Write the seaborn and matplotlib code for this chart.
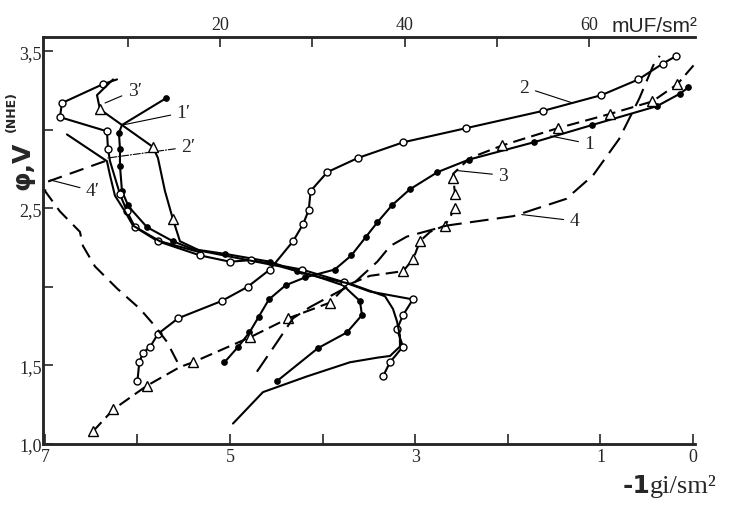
import numpy as np
import pandas as pd
import matplotlib
matplotlib.use("Agg")
import matplotlib.pyplot as plt
import seaborn as sns

# Curves vs. bottom axis (-lg i)
c1_x = [5.06, 4.91, 4.79, 4.69, 4.58, 4.40, 4.19, 3.87, 3.69, 3.53, 3.41, 3.25, 3.06, 2.76, 2.42, 1.72, 1.09, 0.39, 0.14, 0.05]
c1_y = [1.52, 1.62, 1.71, 1.81, 1.92, 2.01, 2.06, 2.11, 2.20, 2.32, 2.41, 2.52, 2.62, 2.73, 2.81, 2.92, 3.03, 3.15, 3.23, 3.27]

c2_x = [6.00, 5.98, 5.94, 5.86, 5.78, 5.56, 5.09, 4.81, 4.57, 4.32, 4.21, 4.15, 4.13, 3.95, 3.62, 3.13, 2.45, 1.62, 0.99, 0.59, 0.33, 0.18]
c2_y = [1.40, 1.52, 1.58, 1.62, 1.70, 1.80, 1.91, 2.00, 2.11, 2.29, 2.40, 2.49, 2.61, 2.73, 2.82, 2.92, 3.01, 3.12, 3.22, 3.32, 3.42, 3.47]

c3_x = [6.48, 6.26, 5.90, 5.54, 5.40, 4.78, 4.37, 3.92, 3.74, 3.49, 3.13, 3.02, 2.95, 2.84, 2.68, 2.57, 2.57, 2.59, 2.59, 2.41, 2.06, 1.46, 0.90, 0.44, 0.17, -0.02]
c3_y = [1.08, 1.22, 1.37, 1.49, 1.52, 1.68, 1.80, 1.90, 2.01, 2.07, 2.10, 2.18, 2.29, 2.35, 2.39, 2.50, 2.59, 2.69, 2.72, 2.82, 2.90, 3.01, 3.10, 3.18, 3.29, 3.42]
c3_marked = [0, 1, 2, 4, 5, 6, 7, 10, 11, 12, 14, 15, 16, 17, 20, 21, 22, 23, 24]

c4_x = [4.71, 4.49, 4.32, 4.14, 3.67, 3.41, 3.27, 3.09, 2.84, 2.66, 1.94, 1.37, 1.08, 0.80, 0.58, 0.43, 0.36]
c4_y = [1.46, 1.65, 1.80, 1.87, 2.02, 2.16, 2.26, 2.32, 2.36, 2.39, 2.45, 2.56, 2.71, 2.94, 3.20, 3.41, 3.47]

# Curves vs. top axis (capacitance, mUF/sm2)
p1_x = [14.12, 9.35, 9.02, 9.13, 9.13, 9.35, 10.00, 10.54, 12.06, 14.88, 17.05, 20.52, 25.40, 28.33, 30.28, 33.32, 35.16, 35.38, 33.75, 30.61, 26.16]
p1_y = [3.20, 3.03, 2.98, 2.88, 2.77, 2.61, 2.52, 2.48, 2.38, 2.29, 2.24, 2.21, 2.16, 2.10, 2.07, 2.01, 1.91, 1.82, 1.71, 1.61, 1.40]
p1_marked = [0, 2, 3, 4, 5, 6, 8, 9, 11, 12, 13, 16, 17, 18, 19, 20]

p2_x = [8.81, 7.29, 2.84, 2.62, 7.72, 7.83, 8.05, 9.13, 9.89, 10.76, 13.25, 17.81, 21.06, 23.34, 28.87, 33.43, 36.25, 40.91, 39.83, 39.18, 39.83, 38.42, 37.66]
p2_y = [3.32, 3.29, 3.17, 3.08, 2.99, 2.88, 2.80, 2.59, 2.48, 2.38, 2.29, 2.20, 2.16, 2.17, 2.11, 2.03, 1.97, 1.92, 1.82, 1.73, 1.62, 1.52, 1.43]
p2_marked = [1, 2, 3, 4, 5, 7, 8, 9, 10, 11, 12, 13, 14, 15, 17, 18, 19, 20, 21, 22]

p3_x = [8.38, 6.64, 6.96, 9.35, 12.71, 13.25, 14.01, 14.88, 15.64, 17.81, 22.15, 26.49, 30.83, 34.08, 37.88, 38.74, 39.18, 39.50, 39.50, 38.42, 37.12, 34.08, 29.41, 24.64, 21.39]
p3_y = [3.32, 3.22, 3.13, 3.03, 2.89, 2.82, 2.61, 2.43, 2.29, 2.23, 2.18, 2.13, 2.06, 2.02, 1.94, 1.86, 1.78, 1.69, 1.62, 1.56, 1.55, 1.52, 1.43, 1.33, 1.13]
p3_marked = [2, 4, 7]

p4_x = [7.51, 1.32, 1.00, 2.62, 4.79, 5.12, 6.42, 8.81, 11.30, 12.93, 14.23, 15.64]
p4_y = [2.80, 2.67, 2.61, 2.48, 2.35, 2.26, 2.13, 1.99, 1.86, 1.75, 1.65, 1.49]

p5_x = [3.38, 7.72, 8.05, 8.59, 9.67, 10.54, 13.47, 17.81]
p5_y = [2.97, 2.80, 2.71, 2.58, 2.48, 2.39, 2.29, 2.22]

sns.set_style("ticks")
plt.rcParams["font.family"] = ["Liberation Serif", "DejaVu Serif"]

fig = plt.figure(figsize=(7.32, 5.06), dpi=100)
ax = fig.add_axes([0.0587, 0.1206, 0.8907, 0.8043])
ax2 = ax.twiny()

lw = 1.5
open_c = dict(marker="o", markersize=5, markerfacecolor="white", markeredgecolor="black", markeredgewidth=1)
fill_c = dict(marker="o", markersize=4, markerfacecolor="black", markeredgecolor="black", markeredgewidth=0.8)
tri = dict(marker="^", markersize=7, markerfacecolor="white", markeredgecolor="black", markeredgewidth=1)

sns.lineplot(x=c1_x, y=c1_y, ax=ax, sort=False, estimator=None, color="black", lw=lw, **fill_c)
sns.lineplot(x=c2_x, y=c2_y, ax=ax, sort=False, estimator=None, color="black", lw=lw, **open_c)
sns.lineplot(x=c3_x, y=c3_y, ax=ax, sort=False, estimator=None, color="black", lw=lw,
             linestyle=(0, (6, 3)), markevery=c3_marked, **tri)
sns.lineplot(x=c4_x, y=c4_y, ax=ax, sort=False, estimator=None, color="black", lw=lw,
             linestyle=(0, (9, 4)))

sns.lineplot(x=p1_x, y=p1_y, ax=ax2, sort=False, estimator=None, color="black", lw=lw,
             markevery=p1_marked, **fill_c)
sns.lineplot(x=p2_x, y=p2_y, ax=ax2, sort=False, estimator=None, color="black", lw=lw,
             markevery=p2_marked, **open_c)
sns.lineplot(x=p3_x, y=p3_y, ax=ax2, sort=False, estimator=None, color="black", lw=lw,
             markevery=p3_marked, **tri)
sns.lineplot(x=p4_x, y=p4_y, ax=ax2, sort=False, estimator=None, color="black", lw=lw,
             linestyle=(0, (7, 4)))
sns.lineplot(x=p5_x, y=p5_y, ax=ax2, sort=False, estimator=None, color="black", lw=lw)

# axes ranges and ticks
ax.set_xlim(7.02, -0.02)
ax.set_ylim(1.0, 3.59)
ax2.set_xlim(0.78, 71.5)

ax.set_xticks([7, 6, 5, 4, 3, 2, 1, 0])
ax.set_xticklabels(["7", "", "5", "", "3", "", "1", "0"])
ax.set_yticks([1.0, 1.5, 2.0, 2.5, 3.0, 3.5])
ax.set_yticklabels(["1,0", "1,5", "", "2,5", "", "3,5"])
ax2.set_xticks([10, 20, 30, 40, 50, 60])
ax2.set_xticklabels(["", "20", "", "40", "", "60"])

ax.tick_params(axis="both", direction="in", length=7, width=1.2, labelsize=13, pad=3)
ax.tick_params(axis="y", pad=1)
ax2.tick_params(axis="x", direction="in", length=7, width=1.2, labelsize=13, pad=3)

for a in (ax, ax2):
    a.spines["right"].set_visible(False)
    for s in ("left", "bottom", "top"):
        a.spines[s].set_linewidth(1.8)
ax.set_xlabel("")
ax.set_ylabel("")
ax2.set_xlabel("")

# curve labels with leader lines
leader = dict(arrowstyle="-", lw=0.8, color="black", shrinkA=2, shrinkB=0)
labels = [
    ("2", (1.30, 3.17), (1.82, 3.27)),
    ("1", (1.54, 2.96), (1.12, 2.91)),
    ("3", (2.55, 2.74), (2.05, 2.71)),
    ("4", (1.85, 2.46), (1.28, 2.42)),
    ("3′", (6.35, 3.17), (6.03, 3.25)),
    ("1′", (6.16, 3.03), (5.50, 3.11)),
    ("4′", (6.94, 2.68), (6.48, 2.61)),
]
for txt, xy, xytext in labels:
    ax.annotate(txt, xy=xy, xytext=xytext, fontsize=14, ha="center", va="center",
                arrowprops=leader)
ax.annotate("2′", xy=(6.32, 2.82), xytext=(5.45, 2.89), fontsize=14, ha="center", va="center",
            arrowprops=dict(arrowstyle="-", lw=0.8, color="black", linestyle="-.", shrinkA=2, shrinkB=0))

# axis titles
fig.text(0.030, 1 - 190 / 506, "φ,V", rotation=90, ha="center", va="bottom",
         fontsize=18, fontweight="bold", family=["DejaVu Sans"])
fig.text(0.016, 1 - 132 / 506, "(NHE)", rotation=90, ha="center", va="bottom",
         fontsize=9, fontweight="bold", family=["DejaVu Sans"])
fig.text(612 / 732, 1 - 32 / 506, "mUF/sm²", ha="left", va="baseline",
         fontsize=15, family=["Liberation Sans", "DejaVu Sans"])
fig.text(650 / 732, 1 - 493 / 506, "-1", ha="right", va="baseline",
         fontsize=18, fontweight="bold", family=["DejaVu Sans"])
fig.text(650 / 732, 1 - 493 / 506, "gi/sm²", ha="left", va="baseline", fontsize=19)

fig.savefig("out.png", dpi=100)
